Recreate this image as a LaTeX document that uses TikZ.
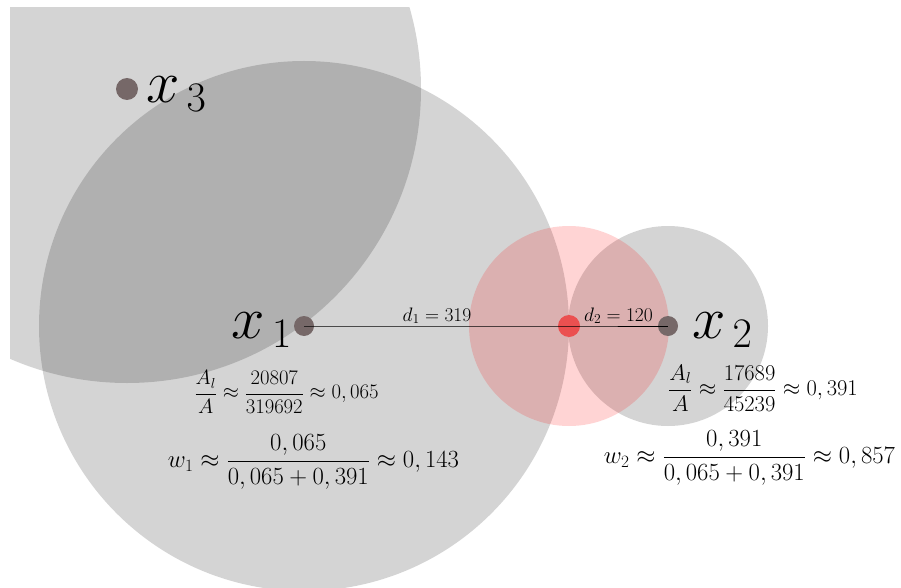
\RequirePackage{fix-cm}
\documentclass[tikz,border=0pt]{standalone}
\definecolor{dotgray}{RGB}{118,104,104}
\definecolor{dotred}{RGB}{235,80,80}
\tikzset{
  zone/.style={fill=black,fill opacity=0.17,draw=none},
  redzone/.style={fill=red,fill opacity=0.17,draw=none},
  pt/.style={circle,fill=dotgray,draw=none,minimum size=20pt,inner sep=0pt},
  redpt/.style={circle,fill=dotred,draw=none,minimum size=22pt,inner sep=0pt},
  biglbl/.style={inner sep=0pt,font=\fontsize{60}{70}\selectfont},
  dlbl/.style={inner sep=0pt,font=\fontsize{19.5}{22}\selectfont},
  albl/.style={inner sep=0pt,font=\fontsize{20.7}{24}\selectfont},
  arlbl/.style={inner sep=0pt,font=\fontsize{22.5}{26}\selectfont},
  wlbl/.style={inner sep=0pt,font=\fontsize{24.7}{29}\selectfont},
}
\begin{document}
\begin{tikzpicture}[x=1pt,y=-1pt]
\useasboundingbox (0,0) rectangle (901,588);
\begin{scope}
\clip (10,8) rectangle (901,588);
\fill[zone] (127,89) circle[radius=294];
\fill[zone] (304,326) circle[radius=265];
\fill[zone] (668,326) circle[radius=100];
\fill[redzone] (569,326) circle[radius=100];
\end{scope}
\node[pt] (x1) at (304,326) {};
\node[pt] (x2) at (668,326) {};
\node[pt,minimum size=22pt] (x3) at (127,89) {};
\node[redpt] (p) at (569,326) {};
\draw[line width=0.8pt] (x1.center) -- (p.center) -- (x2.center);
\node[dlbl,anchor=base] (d1) at (437,321) {$d_1 = 319$};
\node[dlbl,anchor=base] (d2) at (618.5,321) {$d_2 = 120$};
\node[biglbl,anchor=base east] (l1) at (292,338) {$x_{\mkern3mu 1}$};
\node[biglbl,anchor=base west] (l2) at (692,338) {$x_{\mkern3mu 2}$};
\node[biglbl,anchor=base west] (l3) at (146,103) {$x_{\mkern3mu 3}$};
\node[albl] (a1) at (286.5,392) {$\displaystyle\frac{A_l}{A}\approx\frac{20807}{319692}\approx 0,065$};
\node[arlbl] (a2) at (763,388) {$\displaystyle\frac{A_l}{A}\approx\frac{17689}{45239}\approx 0,391$};
\node[wlbl] (w1) at (313.5,462) {$\displaystyle w_1\approx\frac{0,065}{0,065+0,391}\approx 0,143$};
\node[wlbl] (w2) at (749.5,458) {$\displaystyle w_2\approx\frac{0,391}{0,065+0,391}\approx 0,857$};
\end{tikzpicture}
\end{document}
